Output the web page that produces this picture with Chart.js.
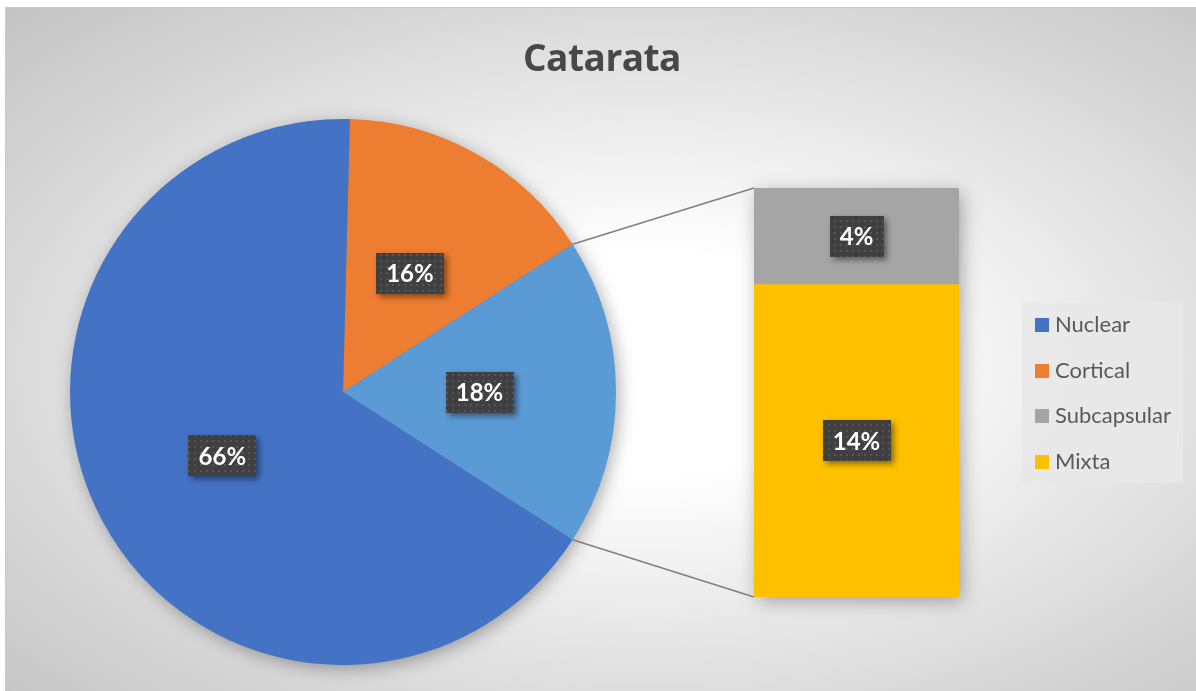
<!DOCTYPE html>
<html>
<head>
<meta charset="utf-8">
<script src="https://cdn.jsdelivr.net/npm/chart.js@4/dist/chart.umd.min.js"></script>
<style>
  html, body { margin: 0; padding: 0; background: #ffffff; }
  #wrap { position: relative; width: 1196px; height: 691px; overflow: hidden; background: #ffffff; }
  #bg { position: absolute; left: 5px; top: 7px; width: 1191px; height: 684px;
        background: radial-gradient(ellipse farthest-corner at 54% 52%, #ffffff 0%, #ffffff 22%, #e6e6e6 55%, #d2d2d2 80%, #c4c4c4 100%);
        border-top: 1px solid #c9c9c9; border-left: 1px solid #c9c9c9; box-sizing: border-box; }
  #pieCanvas { position: absolute; left: 0; top: 0; }
  #barBox { position: absolute; left: 754px; top: 188px; width: 205px; height: 409px; }
  #title { position: absolute; left: 4px; width: 1196px; top: 32px; text-align: center;
           font-family: "Open Sans", Lato, sans-serif; font-weight: bold; font-size: 37px; color: #484848; line-height: 50px; letter-spacing: -0.5px; }
  #legend { position: absolute; left: 1022px; top: 303px; width: 161px; height: 180px; background: rgba(232,232,232,0.85); }
  .li { position: absolute; left: 13px; font-family: Lato, "Open Sans", sans-serif; font-size: 22px; color: #595959; line-height: 24px; }
  .li span.sw { display: inline-block; width: 14px; height: 14px; margin-right: 6px; vertical-align: 0px; }
</style>
</head>
<body>
<div id="wrap">
  <div id="bg"></div>
  <canvas id="pieCanvas" width="1196" height="691"></canvas>
  <div id="barBox"><canvas id="barCanvas" width="205" height="409"></canvas></div>
  <div id="title">Catarata</div>
  <div id="legend"></div>
</div>
<script>
// ---- data (percent) ----
const categories = ['Nuclear', 'Cortical', 'Subcapsular', 'Mixta'];
const nuclear = 66.3;
const cortical = 15.5;
const subcapsular = 4.3;
const mixta = 13.9;
const colors = { Nuclear: '#4472C4', Cortical: '#ED7D31', Other: '#5B9BD5', Subcapsular: '#A5A5A5', Mixta: '#FFC000' };

// pie: Cortical, Other (Subcapsular + Mixta), Nuclear
const otherTotal = subcapsular + mixta;
const pieLabels = ['Cortical', 'Otros', 'Nuclear'];
const pieValues = [cortical, otherTotal, nuclear];
const pieColors = [colors.Cortical, colors.Other, colors.Nuclear];
// the "Otros" slice is centred at 3 o'clock
const pieRotation = 90 - otherTotal * 3.6 / 2 - cortical * 3.6;

// ---- label box pattern ----
function makePattern(ctx) {
  const c = document.createElement('canvas');
  c.width = 6; c.height = 6;
  const g = c.getContext('2d');
  g.fillStyle = '#404040'; g.fillRect(0, 0, 6, 6);
  g.fillStyle = '#565656'; g.fillRect(2, 2, 2, 2);
  return ctx.createPattern(c, 'repeat');
}
const labelFont = 'bold 24px Lato, "Open Sans", sans-serif';
function drawLabel(ctx, x, y, text) {
  ctx.save();
  ctx.font = labelFont;
  const w = Math.round(ctx.measureText(text).width + 20);
  const h = 41;
  const bx = Math.round(x - w / 2), by = Math.round(y - h / 2);
  ctx.shadowColor = 'rgba(0,0,0,0.45)';
  ctx.shadowBlur = 6; ctx.shadowOffsetX = 3; ctx.shadowOffsetY = 3;
  ctx.fillStyle = '#404040';
  ctx.fillRect(bx, by, w, h);
  ctx.shadowColor = 'transparent';
  ctx.fillStyle = makePattern(ctx);
  ctx.fillRect(bx, by, w, h);
  ctx.fillStyle = '#ffffff';
  ctx.textAlign = 'center'; ctx.textBaseline = 'middle';
  ctx.fillText(text, x, y + 1);
  ctx.restore();
}

// ---- bar chart (secondary) ----
const barChart = new Chart(document.getElementById('barCanvas'), {
  type: 'bar',
  data: {
    labels: ['Otros'],
    datasets: [
      { label: 'Mixta', data: [mixta], backgroundColor: colors.Mixta, borderWidth: 0 },
      { label: 'Subcapsular', data: [subcapsular], backgroundColor: colors.Subcapsular, borderWidth: 0 }
    ]
  },
  options: {
    responsive: false, animation: false,
    layout: { padding: 0 },
    plugins: { legend: { display: false }, tooltip: { enabled: false }, title: { display: false } },
    datasets: { bar: { barPercentage: 1, categoryPercentage: 1 } },
    scales: {
      x: { stacked: true, display: false },
      y: { stacked: true, display: false, min: 0, max: otherTotal }
    }
  },
  plugins: [{
    id: 'barLabels',
    afterDatasetsDraw(chart) {
      const ctx = chart.ctx;
      chart.data.datasets.forEach((ds, i) => {
        const el = chart.getDatasetMeta(i).data[0];
        const p = el.getCenterPoint();
        drawLabel(ctx, p.x, p.y, Math.round(ds.data[0]) + '%');
      });
    }
  }]
});

// ---- pie chart (main) ----
const pieChart = new Chart(document.getElementById('pieCanvas'), {
  type: 'pie',
  data: { labels: pieLabels, datasets: [{ data: pieValues, backgroundColor: pieColors, borderWidth: 0 }] },
  options: {
    responsive: false, animation: false,
    rotation: pieRotation,
    layout: { padding: { left: 70, right: 580, top: 119, bottom: 26 } },
    plugins: { legend: { display: false }, tooltip: { enabled: false }, title: { display: false } }
  },
  plugins: [{
    id: 'pieExtras',
    beforeDatasetsDraw(chart) {
      const ctx = chart.ctx;
      const arc = chart.getDatasetMeta(0).data[0];
      ctx.save();
      ctx.shadowColor = 'rgba(0,0,0,0.35)';
      ctx.shadowBlur = 18; ctx.shadowOffsetX = 3; ctx.shadowOffsetY = 4;
      ctx.fillStyle = '#808080';
      ctx.beginPath(); ctx.arc(arc.x, arc.y, arc.outerRadius - 1, 0, Math.PI * 2); ctx.fill();
      // bar shadow
      const bm0 = barChart.getDatasetMeta(0).data[0];
      const bm1 = barChart.getDatasetMeta(1).data[0];
      const c = barChart.canvas.getBoundingClientRect();
      const w = chart.canvas.getBoundingClientRect();
      const ox = c.left - w.left, oy = c.top - w.top;
      ctx.fillRect(ox + bm0.x - bm0.width / 2 + 1, oy + bm1.y + 1, bm0.width - 2, bm0.base - bm1.y - 2);
      ctx.restore();
    },
    afterDatasetsDraw(chart) {
      const ctx = chart.ctx;
      const meta = chart.getDatasetMeta(0);
      // connector lines from "Otros" slice to the bar
      const other = meta.data[1];
      const bm0 = barChart.getDatasetMeta(0).data[0];
      const bm1 = barChart.getDatasetMeta(1).data[0];
      const c = barChart.canvas.getBoundingClientRect();
      const w = chart.canvas.getBoundingClientRect();
      const ox = c.left - w.left, oy = c.top - w.top;
      const left = ox + bm0.x - bm0.width / 2;
      const top = oy + bm1.y, bottom = oy + bm0.base;
      const r = other.outerRadius;
      const p1 = { x: other.x + r * Math.cos(other.startAngle), y: other.y + r * Math.sin(other.startAngle) };
      const p2 = { x: other.x + r * Math.cos(other.endAngle), y: other.y + r * Math.sin(other.endAngle) };
      ctx.save();
      ctx.strokeStyle = '#7f7f7f'; ctx.lineWidth = 1.5;
      ctx.beginPath();
      ctx.moveTo(p1.x, p1.y); ctx.lineTo(left, top);
      ctx.moveTo(p2.x, p2.y); ctx.lineTo(left, bottom);
      ctx.stroke();
      ctx.restore();
      meta.data.forEach((el, i) => {
        const p = el.getCenterPoint();
        drawLabel(ctx, p.x, p.y, Math.round(pieValues[i]) + '%');
      });
    }
  }]
});

// ---- legend ----
const legendEl = document.getElementById('legend');
categories.forEach((name, i) => {
  const d = document.createElement('div');
  d.className = 'li';
  d.style.top = (9 + i * 45.5) + 'px';
  d.innerHTML = '<span class="sw" style="background:' + colors[name] + '"></span>' + name;
  legendEl.appendChild(d);
});
</script>
</body>
</html>
